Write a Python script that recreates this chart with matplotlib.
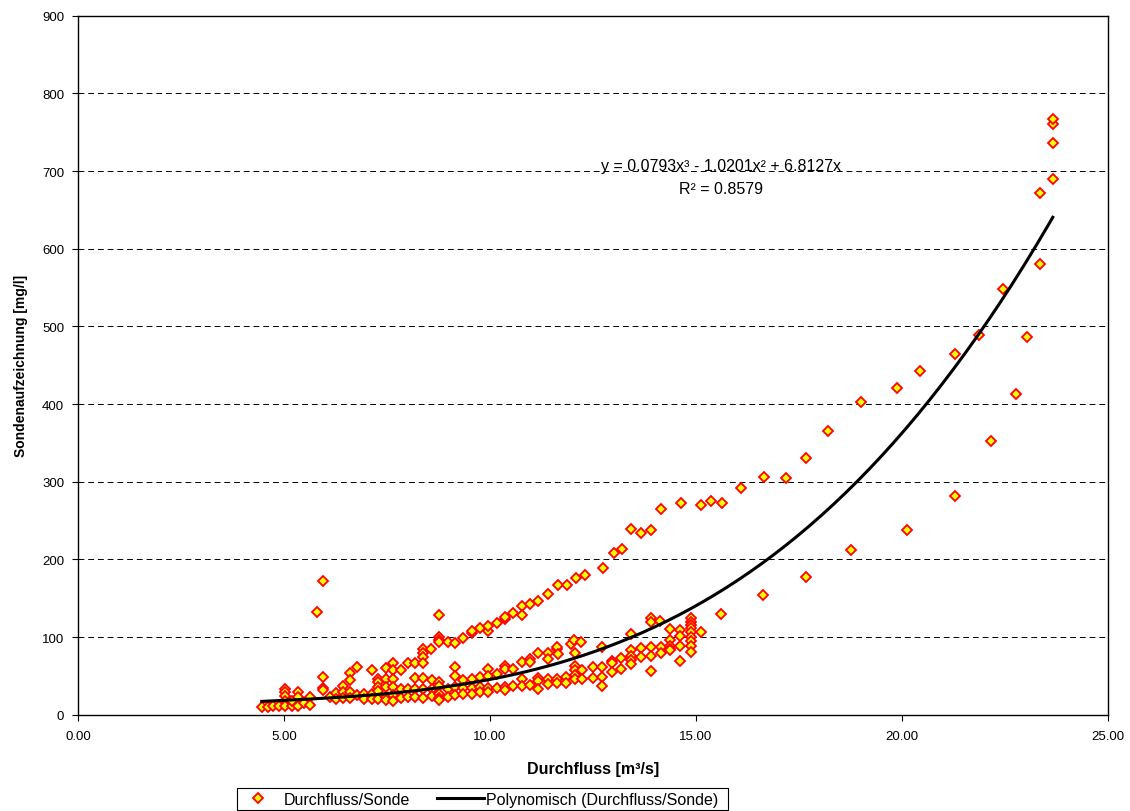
import matplotlib.pyplot as plt
import numpy as np
from matplotlib.patches import Rectangle

plt.rcParams['font.family'] = ['Liberation Sans', 'DejaVu Sans']

# Durchfluss [m3/s] / Sondenaufzeichnung [mg/l]
flow = [
    4.46, 4.60, 4.74, 4.89, 5.02, 5.02, 5.02, 5.02, 5.02, 5.19, 5.19, 5.33, 5.33, 5.33,
    5.49, 5.63, 5.63, 5.80, 5.95, 5.95, 5.95, 5.95, 6.12, 6.26, 6.26, 6.44, 6.44, 6.44,
    6.60, 6.60, 6.60, 6.60, 6.78, 6.78, 6.94, 6.94, 7.13, 7.13, 7.13, 7.29, 7.29, 7.29,
    7.29, 7.29, 7.48, 7.48, 7.48, 7.48, 7.48, 7.65, 7.65, 7.65, 7.65, 7.65, 7.65, 7.83,
    7.83, 7.83, 8.02, 8.02, 8.02,
    8.18, 8.18, 8.18, 8.18, 8.38, 8.38, 8.38, 8.38, 8.38, 8.38, 8.38, 8.57, 8.59, 8.59,
    8.59, 8.76, 8.76, 8.76, 8.76, 8.76, 8.76, 8.76, 8.76, 8.76, 8.97, 8.97, 8.97, 9.15,
    9.15, 9.15, 9.15, 9.15, 9.35, 9.35, 9.35, 9.35, 9.56, 9.56, 9.56, 9.56, 9.56, 9.76,
    9.76, 9.76, 9.76, 9.95, 9.95, 9.95, 9.95, 9.95, 9.95, 10.17, 10.17, 10.17, 10.36,
    10.36, 10.36, 10.36, 10.36, 10.36, 10.56, 10.56, 10.56, 10.77, 10.77, 10.77, 10.77,
    10.77, 10.97, 10.97, 10.97, 10.97, 11.17, 11.17, 11.17, 11.17, 11.17, 11.40, 11.40,
    11.40, 11.40, 11.40, 11.62, 11.62, 11.62,
    11.63, 11.65, 11.84, 11.84, 11.96, 12.03, 12.07, 12.07, 12.07, 12.07, 12.07, 12.22,
    12.23, 12.24, 12.50, 12.50, 12.73, 12.73, 12.73, 12.73, 12.97, 12.97, 12.97, 13.19,
    13.19, 13.42, 13.42, 13.42, 13.42, 13.42, 13.66, 13.66, 13.90, 13.90, 13.90, 13.90,
    13.90, 14.13, 14.14, 14.14, 14.38, 14.38, 14.38, 14.38, 14.38, 14.62, 14.62, 14.62,
    14.62, 14.87, 14.87, 14.87, 14.87, 14.87, 14.87, 14.87, 14.87, 14.87, 15.12,
    11.65, 11.87, 12.09, 12.31, 12.75, 13.00, 13.20, 13.42, 13.67, 13.90, 14.15, 14.64,
    15.12, 15.36, 15.63, 16.10, 16.65, 17.18, 17.67, 18.20, 19.00, 19.88, 20.44, 21.29,
    21.87, 22.44, 23.35, 23.66, 23.66, 23.66, 23.66,
    15.61, 16.63, 17.67, 18.76, 20.12, 21.29, 22.16, 22.76, 23.04, 23.35,
]
probe = [
    9.5, 9.5, 11.6, 10.8, 33, 29, 24.5, 18, 11, 11.6, 18, 28.8, 22.4, 11.6,
    14.7, 22.4, 12.5, 132, 172, 48, 34, 31.5, 22.4, 27.5, 20.5, 36.5, 29, 21,
    53.7, 44.7, 29, 21, 61, 25, 26.6, 20.5, 57.5, 27, 20.5, 46, 42, 36,
    30, 20.5, 59.7, 46, 36, 23, 19, 67, 57, 46, 36, 25, 17, 58,
    33.5, 21, 66.5, 33.5, 23,
    67, 47, 33, 22.5, 84.5, 80, 74, 67, 47, 33, 21, 84.5, 45, 33,
    24, 128, 99.6, 96.6, 93.4, 42.5, 36.5, 27, 21.5, 18.5, 93, 33, 22.5, 92,
    61, 50, 36, 25, 99, 45, 34, 27, 105, 108, 46, 34, 27, 111,
    48, 36, 29, 108, 114, 59, 50, 34, 29, 118, 53, 35, 123,
    126, 63, 59, 36, 32, 131, 59, 37, 139.5, 128, 68, 46,
    37, 143, 72, 68, 38, 146, 80, 47, 43, 33, 155, 80,
    72, 46, 39, 84, 46, 41,
    87, 78, 49, 41, 91, 96.5, 80, 63, 57, 50.5, 46, 94,
    57, 46, 61, 47, 87, 61, 48.5, 37.5, 69.5, 67, 54.5, 72.6,
    58.5, 104, 83, 76, 70, 65.6, 85.5, 74, 125, 120, 87, 76,
    56, 121, 87, 80, 110, 96.5, 89, 85, 83, 109, 101, 89,
    68.5, 125, 120, 115, 112, 106, 100, 95, 88, 81, 107,
    167, 167, 176, 180, 189, 208, 213, 238.6, 234, 238, 265, 272,
    270, 275, 273, 292, 306, 305, 330, 365, 402, 421, 442, 464,
    489, 548, 672, 690, 736, 760, 767,
    130, 154, 177, 212, 238, 282, 352, 413, 486, 580,
]

# Excel-Trendlinie (Polynom 3. Grades)
coef = [0.0793, -1.0201, 6.8127, 0.0]
x_trend = np.linspace(min(flow), max(flow), 200)
y_trend = np.polyval(coef, x_trend)

fig = plt.figure(figsize=(11.3, 8.12), dpi=100)
ax = fig.add_axes([78 / 1130, 96.3 / 812, 1030 / 1130, 699 / 812])

ax.plot(flow, probe, linestyle='none', marker='D', markersize=5.5,
        markerfacecolor='#ffff00', markeredgecolor='#ff0000', markeredgewidth=1.3,
        label='Durchfluss/Sonde', zorder=3)
ax.plot(x_trend, y_trend, color='black', linewidth=2.2,
        label='Polynomisch (Durchfluss/Sonde)', zorder=4)

ax.set_xlim(0, 25)
ax.set_ylim(0, 900)
ax.set_xticks(np.arange(0, 26, 5))
ax.set_yticks(np.arange(0, 901, 100))
ax.xaxis.set_major_formatter(plt.FormatStrFormatter('%.2f'))
ax.tick_params(direction='out', length=4, width=0.8, labelsize=9.5, pad=7)
ax.tick_params(axis='y', pad=6)
ax.grid(axis='y', color='black', linestyle=(0, (6, 4)), linewidth=0.7)
ax.set_axisbelow(True)
for s in ax.spines.values():
    s.set_linewidth(1.0)

ax.set_xlabel('Durchfluss [m³/s]', fontsize=11.5, fontweight='bold', labelpad=14)
ax.set_ylabel('Sondenaufzeichnung [mg/l]', fontsize=10, fontweight='bold', labelpad=10)

ax.text(15.6, 707, 'y = 0.0793x³ - 1.0201x² + 6.8127x', ha='center', va='center', fontsize=11.5)
ax.text(15.6, 677, 'R² = 0.8579', ha='center', va='center', fontsize=11.5)

# legend below the plot, box drawn by hand like the Excel one
leg = fig.legend(loc='upper left', bbox_to_anchor=(235 / 1130, 1 - 793 / 812), ncol=2,
                 fontsize=11.5, frameon=False, borderpad=0, borderaxespad=0,
                 handlelength=2.9, handletextpad=0.15, columnspacing=1.7, markerscale=0.9)
fig.patches.append(Rectangle((237 / 1130, 1 / 812), (728 - 237) / 1130, 22 / 812,
                             transform=fig.transFigure, fill=False, edgecolor='black', linewidth=0.8))

plt.savefig('out.png', dpi=100)
